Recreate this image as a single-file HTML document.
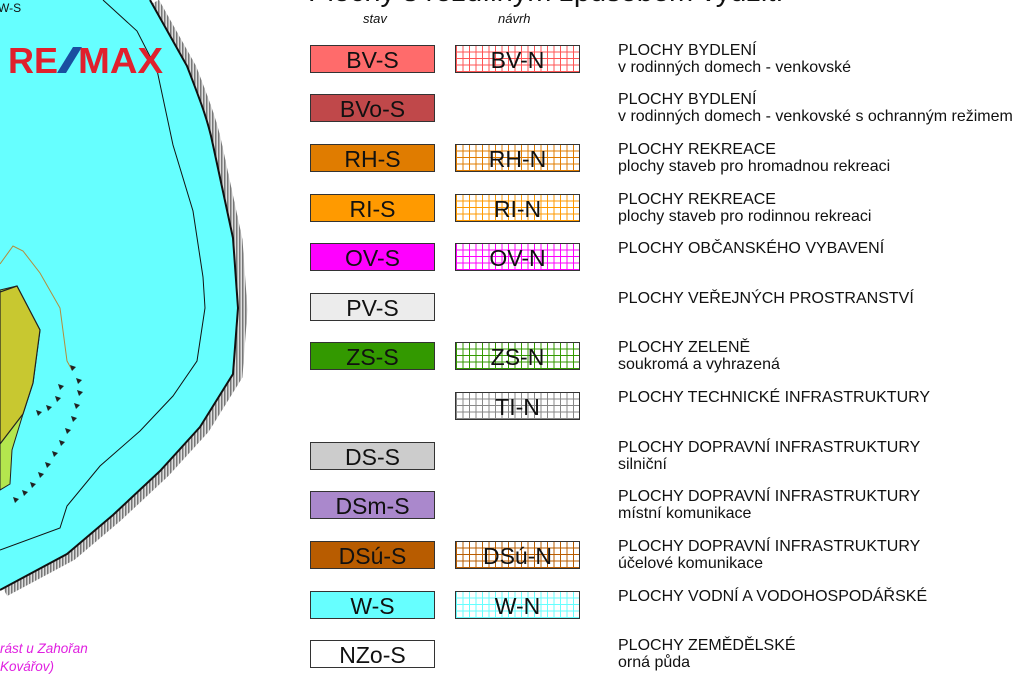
<!DOCTYPE html>
<html><head><meta charset="utf-8"><style>
body{margin:0;width:1024px;height:685px;background:#fff;overflow:hidden;position:relative;font-family:"Liberation Sans",sans-serif}
.t{position:absolute;left:308px;top:-24px;font-size:29px;white-space:nowrap;color:#111}
.h{position:absolute;font-style:italic;font-size:13px;color:#111}
.b{position:absolute;width:123px;height:26px;border:1px solid #333;font-size:23px;line-height:28px;text-align:center;color:#111;box-sizing:content-box;background-color:#fff}
.s{left:310px}
.n{left:455px}
.d{position:absolute;left:618px;font-size:16px;line-height:17px;color:#111;white-space:nowrap}
</style></head><body>
<svg width="320" height="685" style="position:absolute;left:0;top:0">
<defs><pattern id="hp" width="3" height="3" patternUnits="userSpaceOnUse"><rect width="3" height="3" fill="#ddd"/><rect width="1.5" height="3" fill="#777"/></pattern></defs>
<path d="M150,0 L187,66 C200,100 208,120 213,145 L233,238 L238,308 L233,374 L200,427 L160,471 L113,515 L67,554 L0,590" fill="none" stroke="url(#hp)" stroke-width="9" transform="translate(5,2)"/>
<path d="M0,0 L150,0 L187,66 C200,100 208,120 213,145 L233,238 L238,308 L233,374 L200,427 L160,471 L113,515 L67,554 L0,590 Z" fill="#66ffff"/>
<path d="M150,0 L187,66 C200,100 208,120 213,145 L233,238 L238,308 L233,374 L200,427 L160,471 L113,515 L67,554 L0,590" fill="none" stroke="#111" stroke-width="2"/>
<path d="M103,0 L137,31 L157,70 L173,145 L193,211 L203,277 L205,308 L197,361 L173,396 L140,431 L100,466 L67,506 L60,528 L0,550" fill="none" stroke="#111" stroke-width="1"/>
<path d="M0,264 L13,246 L23,251 L40,273 L60,308 L67,361 L72,370" fill="none" stroke="#b58b3a" stroke-width="1"/>
<path d="M0,290 L17,286 L40,330 L33,383 L23,414 L12,450 L10,484 L0,490 Z" fill="#b4e64e" stroke="#222" stroke-width="1"/>
<path d="M0,292 L17,286 L40,330 L33,383 L23,414 L0,444 Z" fill="#c8c830" stroke="#222" stroke-width="1.2"/>
<g fill="#222">
<path d="M70,365 l6,2 -4,4z"/><path d="M76,378 l6,2 -4,4z"/><path d="M77,390 l6,2 -4,4z"/><path d="M74,403 l6,2 -4,4z"/><path d="M71,416 l6,2 -4,4z"/><path d="M65,428 l6,2 -4,4z"/><path d="M59,440 l6,2 -4,4z"/><path d="M52,451 l6,2 -4,4z"/><path d="M45,462 l6,2 -4,4z"/><path d="M38,472 l6,2 -4,4z"/><path d="M30,482 l6,2 -4,4z"/><path d="M22,490 l6,2 -4,4z"/><path d="M13,497 l6,2 -4,4z"/><path d="M58,384 l6,2 -4,4z"/><path d="M55,396 l6,2 -4,4z"/><path d="M46,405 l6,2 -4,4z"/><path d="M36,410 l6,2 -4,4z"/>
</g>
<text x="-2" y="12" font-size="12" fill="#111">W-S</text>
<text x="8" y="73" font-size="36" font-weight="bold" fill="#e0202d" textLength="50" lengthAdjust="spacingAndGlyphs">RE</text>
<path d="M57,73 L66,73 L82,47 L73,47Z" fill="#1a4fa0"/>
<text x="78" y="73" font-size="36" font-weight="bold" fill="#e0202d" textLength="85" lengthAdjust="spacingAndGlyphs">MAX</text>
<text x="0" y="653" font-size="13.5" font-style="italic" fill="#e020e0">rást u Zahořan</text>
<text x="0" y="671" font-size="13.5" font-style="italic" fill="#e020e0">Kovářov)</text>
</svg>
<div class="t">Plochy s rozdílným způsobem využití</div>
<div class="h" style="left:363px;top:11px">stav</div>
<div class="h" style="left:498px;top:11px">návrh</div>
<div id="c"></div>
<script>
var rows=[["BV-S","#ff6b6b","BV-N","#ff5555",45,"PLOCHY BYDLENÍ","v rodinných domech - venkovské"],
["BVo-S","#c0484a",null,null,94,"PLOCHY BYDLENÍ","v rodinných domech - venkovské s ochranným režimem"],
["RH-S","#e07c00","RH-N","#e07c00",144,"PLOCHY REKREACE","plochy staveb pro hromadnou rekreaci"],
["RI-S","#ff9a00","RI-N","#ff9a00",194,"PLOCHY REKREACE","plochy staveb pro rodinnou rekreaci"],
["OV-S","#ff00ff","OV-N","#ff00ff",243,"PLOCHY OBČANSKÉHO VYBAVENÍ",""],
["PV-S","#ececec",null,null,293,"PLOCHY VEŘEJNÝCH PROSTRANSTVÍ",""],
["ZS-S","#339900","ZS-N","#339900",342,"PLOCHY ZELENĚ","soukromá a vyhrazená"],
[null,null,"TI-N","#888888",392,"PLOCHY TECHNICKÉ INFRASTRUKTURY",""],
["DS-S","#cccccc",null,null,442,"PLOCHY DOPRAVNÍ INFRASTRUKTURY","silniční"],
["DSm-S","#aa88cc",null,null,491,"PLOCHY DOPRAVNÍ INFRASTRUKTURY","místní komunikace"],
["DSú-S","#b85c00","DSú-N","#b85c00",541,"PLOCHY DOPRAVNÍ INFRASTRUKTURY","účelové komunikace"],
["W-S","#66ffff","W-N","#66ffff",591,"PLOCHY VODNÍ A VODOHOSPODÁŘSKÉ",""],
["NZo-S","#ffffff",null,null,640,"PLOCHY ZEMĚDĚLSKÉ","orná půda"]];
var h="";
rows.forEach(function(r){
 if(r[0])h+='<div class="b s" style="top:'+r[4]+'px;background-color:'+r[1]+'">'+r[0]+'</div>';
 if(r[2])h+='<div class="b n" style="top:'+r[4]+'px;background-image:repeating-linear-gradient(90deg,'+r[3]+' 0px,'+r[3]+' 1px,transparent 1px,transparent 6.5px),repeating-linear-gradient(0deg,'+r[3]+' 0px,'+r[3]+' 1px,transparent 1px,transparent 6.5px)">'+r[2]+'</div>';
 h+='<div class="d" style="top:'+(r[4]-3)+'px">'+r[5]+(r[6]?'<br>'+r[6]:'')+'</div>';
});
document.getElementById('c').innerHTML=h;
</script>
</body></html>
